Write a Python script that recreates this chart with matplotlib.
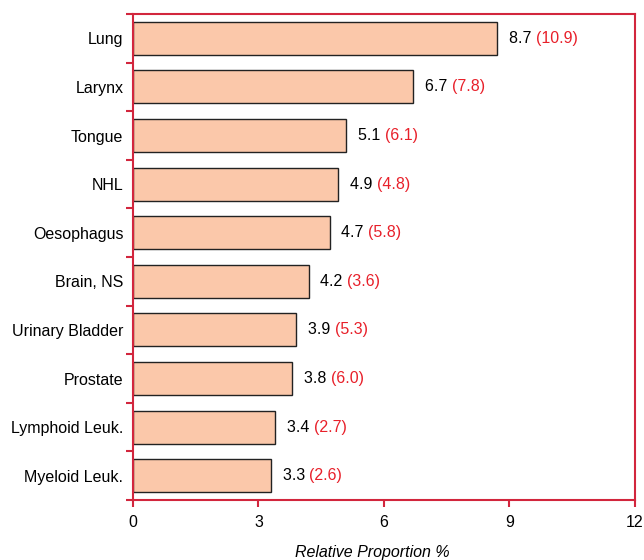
import numpy as np
import matplotlib.pyplot as plt

categories = ["Lung", "Larynx", "Tongue", "NHL", "Oesophagus", "Brain, NS",
              "Urinary Bladder", "Prostate", "Lymphoid Leuk.", "Myeloid Leuk."]
values = [8.7, 6.7, 5.1, 4.9, 4.7, 4.2, 3.9, 3.8, 3.4, 3.3]
compare = ["10.9", "7.8", "6.1", "4.8", "5.8", "3.6", "5.3", "6.0", "2.7", "2.6"]
xticks = [0, 3, 6, 9, 12]

plt.rcParams["font.family"] = ["Liberation Sans", "DejaVu Sans"]
red = "#d2263d"
txt_red = "#e8202a"
fs = 11.5

fig = plt.figure(figsize=(6.44, 5.6), dpi=100)
ax = fig.add_axes([0.2065, 0.107, 0.7795, 0.868])

y = np.arange(len(categories))
ax.barh(y, values, height=0.68, color="#fbc8aa", edgecolor="#222222", linewidth=1.0)

for yi, v, c in zip(y, values, compare):
    t = ax.text(v + 0.28, yi, f"{v:.1f} ", va="center", ha="left", fontsize=fs, color="black")
    ax.annotate(f"({c})", xy=(1, 0), xycoords=t, va="bottom", ha="left",
                fontsize=fs, color=txt_red)

ax.set_xlim(0, 12)
ax.set_ylim(len(categories) - 0.5, -0.5)
ax.set_xticks(xticks)
ax.set_yticks(y)
ax.set_yticklabels(categories)
ax.set_yticks(np.arange(len(categories) + 1) - 0.5, minor=True)
ax.tick_params(axis="y", which="major", length=0, pad=7, labelsize=fs)
ax.tick_params(axis="y", which="minor", length=5, width=1.5, color=red, direction="out")
ax.tick_params(axis="x", length=5, width=1.5, color=red, direction="out", labelsize=fs, pad=6)

for s in ax.spines.values():
    s.set_color(red)
    s.set_linewidth(1.5)

ax.set_xlabel("Relative Proportion %", fontsize=fs, style="italic")
ax.xaxis.set_label_coords(0.476, -0.092)

fig.savefig("out.png", dpi=100)
